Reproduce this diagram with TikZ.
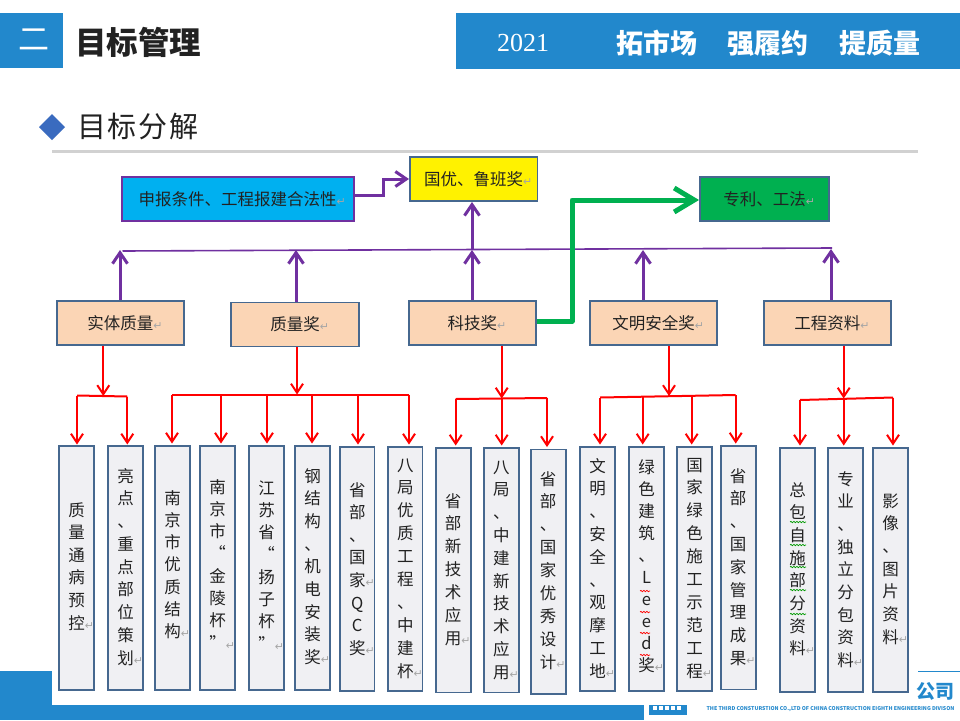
\documentclass[tikz,border=0pt]{standalone}
\usepackage{fontspec}
\setmainfont{Noto Sans CJK SC}
\newfontfamily\serifdigits{Liberation Serif}
\newfontfamily\retfont{DejaVu Sans}
\usetikzlibrary{arrows.meta,decorations.pathmorphing}
\definecolor{hdrblue}{HTML}{2288CC}
\definecolor{diamondblue}{HTML}{3A6BBF}
\definecolor{edgeblue}{HTML}{46688F}
\definecolor{peach}{HTML}{FBD5B5}
\definecolor{panelgrey}{HTML}{F0F0F3}
\definecolor{purp}{HTML}{7030A0}
\definecolor{grn}{HTML}{00B050}
\definecolor{skyb}{HTML}{00B0F0}
\definecolor{inkc}{HTML}{222222}
\newcommand\ret{\rlap{\retfont\fontsize{11}{11}\selectfont\textcolor{black!35}{↵}}}
\makeatletter
\newcommand\vchars[2]{\vtop{\baselineskip=#1pt\lineskiplimit=-100pt\lineskip=0pt\@tfor\vc@i:=#2\do{\hbox to 20pt{\hss\vc@i\hss}}}}
\makeatother
\newcommand\colbox[8]{%
  \pgfmathsetmacro\cbw{#3-#2}\pgfmathsetmacro\cbh{#5-#4}%
  \pgfmathsetmacro\cbx{(#3+#2)/2}\pgfmathsetmacro\cby{(#5+#4)/2}%
  \pgfmathsetmacro\cbr{\cby-#6-6}%
  \node[colstack,minimum width=\cbw pt,minimum height=\cbh pt] (#1) at (\cbx,\cby)
    {\raisebox{\cbr pt}[0pt][0pt]{\vchars{#7}{#8}}};}
\tikzset{
  colstack/.style={draw=edgeblue,fill=panelgrey,line width=1.9pt,inner sep=0pt,text=inkc,font=\fontsize{16.5}{20}\selectfont},
  topbox/.style={draw=edgeblue,line width=1.9pt,inner sep=0pt,text=inkc,font=\fontsize{16.5}{20}\selectfont,minimum height=44pt},
  midbox/.style={topbox,fill=peach,minimum width=127.5pt},
  purparrow/.style={draw=purp,line width=3pt,-{Straight Barb[length=11pt,width=15pt,line width=3pt]}},
  redarrow/.style={draw=red,line width=2pt,-{Straight Barb[length=9pt,width=12pt,line width=2pt]}},
  redbus/.style={draw=red,line width=2pt},
  grnarrow/.style={draw=grn,line width=5pt,line join=round,-{Straight Barb[length=20pt,width=24pt,line width=5pt]}},
  squig/.style={decorate,decoration={snake,amplitude=0.7pt,segment length=3pt},line width=0.7pt},
  hdrtext/.style={text=white,inner sep=0pt,font=\fontsize{27}{30}\selectfont\bfseries}
}
\begin{document}
\begin{tikzpicture}[x=1pt,y=-1pt]
\useasboundingbox (0,0) rectangle (960,720);
\fill[white] (0,0) rectangle (960,720);
% header
\fill[hdrblue] (0,13) rectangle (63,68);
\fill[hdrblue] (456,13) rectangle (960,69);
\node[text=white,inner sep=0pt,font=\fontsize{31}{34}\selectfont] (num) at (34,40) {二};
\node[text=inkc,inner sep=0pt,font=\fontsize{31.5}{34}\selectfont\bfseries] (title) at (138,42) {目标管理};
\node[text=white,inner sep=0pt,font=\serifdigits\fontsize{26}{28}\selectfont] (year) at (523,43) {2021};
\node[hdrtext] (h1) at (657,43) {拓市场};
\node[hdrtext] (h2) at (768,43) {强履约};
\node[hdrtext] (h3) at (880,43) {提质量};
% sub title
\fill[diamondblue] (39,127) -- (52,114) -- (65,127) -- (52,140) -- cycle;
\node[text=inkc,inner sep=0pt,font=\fontsize{29}{32}\selectfont] (sub) at (138,127) {目\hspace{2pt}标\hspace{2pt}分\hspace{2pt}解};
\fill[black!18] (52,149.5) rectangle (918,152.5);
% footer
\fill[hdrblue] (0,671) rectangle (52,720);
\fill[hdrblue] (0,705) rectangle (644,720);
\fill[hdrblue] (649,705) rectangle (687,715);
\foreach \lx in {653,659,665,671,677}{\fill[white] (\lx,706) rectangle ++(4,4);}
\draw[hdrblue,line width=1pt] (918,671) -- (960,671);
\node[text=hdrblue,inner sep=0pt,font=\fontsize{19}{20}\selectfont\bfseries] (co) at (935.5,691) {公司};
\node[text=hdrblue,inner sep=0pt,font=\fontsize{5.25}{6}\selectfont\bfseries] (coen) at (830.5,709) {THE THIRD CONSTURSTION CO.,LTD OF CHINA CONSTRUCTION EIGHTH ENGINEERING DIVISON};
% top boxes
\node[topbox,draw=purp,fill=skyb,minimum width=232pt] (apply) at (237.7,199) {申报条件、工程报建合法性\ret};
\node[topbox,fill=yellow,minimum width=127.5pt] (award) at (473.7,179) {国优、鲁班奖\ret};
\node[topbox,fill=grn,minimum width=129pt] (patent) at (764.5,199) {专利、工法\ret};
% middle boxes
\node[midbox] (m1) at (120.3,323) {实体质量\ret};
\node[midbox,minimum width=128.5pt] (m2) at (295,324.5) {质量奖\ret};
\node[midbox] (m3) at (472.3,323) {科技奖\ret};
\node[midbox] (m4) at (653.5,323) {文明安全奖\ret};
\node[midbox] (m5) at (827.3,323) {工程资料\ret};
% column boxes
\colbox{c1}{59}{94}{446}{690}{510}{22.6}{质量通病预{控\ret}}
\colbox{c2}{108.3}{143}{446}{690}{476}{22.75}{亮点、重点部位策{划\ret}}
\colbox{c3}{155}{190}{446}{690}{498}{22.3}{南京市优质结{构\ret}}
\colbox{c4}{200}{235}{446}{690}{487}{22.3}{南京市“金陵杯{”\ret}}
\colbox{c5}{249}{284}{446}{690}{488}{22.3}{江苏省“扬子杯{”\ret}}
\colbox{c6}{295}{330}{446}{690}{476}{22.7}{钢结构、机电安装{奖\ret}}
\colbox{c7}{340}{374.5}{447}{691}{490}{22.6}{省部、国{家\ret}QC{奖\ret}}
\colbox{c8}{388}{422.5}{447}{691}{465}{22.9}{八局优质工程、中建{杯\ret}}
\colbox{c9}{435.7}{470.6}{448}{692.5}{501}{22.9}{省部新技术应{用\ret}}
\colbox{c10}{483.8}{519}{448}{692.5}{467}{22.8}{八局、中建新技术应{用\ret}}
\colbox{c11}{530.7}{565.7}{449.5}{694}{479}{22.9}{省部、国家优秀设{计\ret}}
\colbox{c12}{580}{615}{447}{691}{466}{22.8}{文明、安全、观摩工{地\ret}}
\colbox{c13}{629}{664}{447}{691}{467}{22.1}{绿色建筑、Leed{奖\ret}}
\colbox{c14}{677}{712}{447}{691}{465}{22.9}{国家绿色施工示范工{程\ret}}
\colbox{c15}{720.7}{755.7}{446}{689.5}{476}{22.8}{省部、国家管理成{果\ret}}
\colbox{c16}{780}{815}{448}{692}{490}{22.7}{总包自施部分资{料\ret}}
\colbox{c17}{828}{863}{448}{692}{479}{22.7}{专业、独立分包资{料\ret}}
\colbox{c18}{873}{908}{448}{692}{501}{22.7}{影像、图片资{料\ret}}
% spell-check squiggles
\foreach \sy in {522,545,567,590,614}{\draw[squig,green!60!black] (790,\sy) -- (806,\sy);}
\foreach \sy in {591,612,633,655}{\draw[squig,red] (640,\sy) -- (650,\sy);}
% purple
\coordinate (pl) at (122.5,251);
\coordinate (pr) at (832,248);
\draw[purp,line width=1.6pt] (pl) -- (pr);
\draw[purparrow] (m1.north -| 120,0) -- (120,250);
\draw[purparrow] (m2.north -| 296,0) -- (296,250);
\draw[purparrow] (m3.north -| 472,0) -- (472,250);
\draw[purparrow] (m4.north -| 643,0) -- (643,250);
\draw[purparrow] (m5.north -| 831,0) -- (831,249);
\draw[purparrow] (472,250) -- (award.south -| 472,0);
\draw[purparrow,line join=miter] (apply.east |- 0,195) -- (383,195) -- (383,179) -- (award.west);
% green
\draw[grnarrow] (m3.east) ++(0,-2) -- (572,321) -- (572,200) -- (patent.west |- 0,200);
% red 1
\coordinate (j1) at (103.3,396);
\draw[redarrow] (m1.south -| j1) -- (j1);
\draw[redbus] (77,395.5) -- (127.3,396.5);
\draw[redarrow] (77,395.5) -- (77,444.5);
\draw[redarrow] (127.3,396.5) -- (127.3,444.5);
% red 2
\coordinate (j2) at (297,394.5);
\draw[redarrow] (m2.south -| j2) -- (j2);
\draw[redbus] (172,394.5) -- (409,394.5);
\foreach \dx/\cn in {172/c3,221/c4,267/c5,312/c6,358/c7,409/c8}{
  \draw[redarrow] (\dx,394.5) -- ([yshift=1.5pt]\cn.north -| \dx,0);}
% red 3
\coordinate (j3) at (501.7,398.5);
\draw[redarrow] (m3.south -| j3) -- (j3);
\draw[redbus] (455.7,399) -- (547,398);
\draw[redarrow] (455.7,399) -- ([yshift=1.5pt]c9.north -| 455.7,0);
\draw[redarrow] (j3) -- ([yshift=1.5pt]c10.north -| j3);
\draw[redarrow] (547,398) -- ([yshift=1.5pt]c11.north -| 547,0);
% red 4
\coordinate (j4) at (669,396);
\draw[redarrow] (m4.south -| j4) -- (j4);
\draw[redbus] (600,397.5) -- (735.7,395);
\foreach \dx/\dy/\cn in {600/397.5/c12,642.7/396.5/c13,691.7/395.5/c14,735.7/395/c15}{
  \draw[redarrow] (\dx,\dy) -- ([yshift=1.5pt]\cn.north -| \dx,0);}
% red 5
\coordinate (j5) at (843.7,398.5);
\draw[redarrow] (m5.south -| j5) -- (j5);
\draw[redbus] (800,400) -- (893,397.5);
\draw[redarrow] (800,400) -- ([yshift=1.5pt]c16.north -| 800,0);
\draw[redarrow] (j5) -- ([yshift=1.5pt]c17.north -| j5);
\draw[redarrow] (893,397.5) -- ([yshift=1.5pt]c18.north -| 893,0);
\end{tikzpicture}
\end{document}
